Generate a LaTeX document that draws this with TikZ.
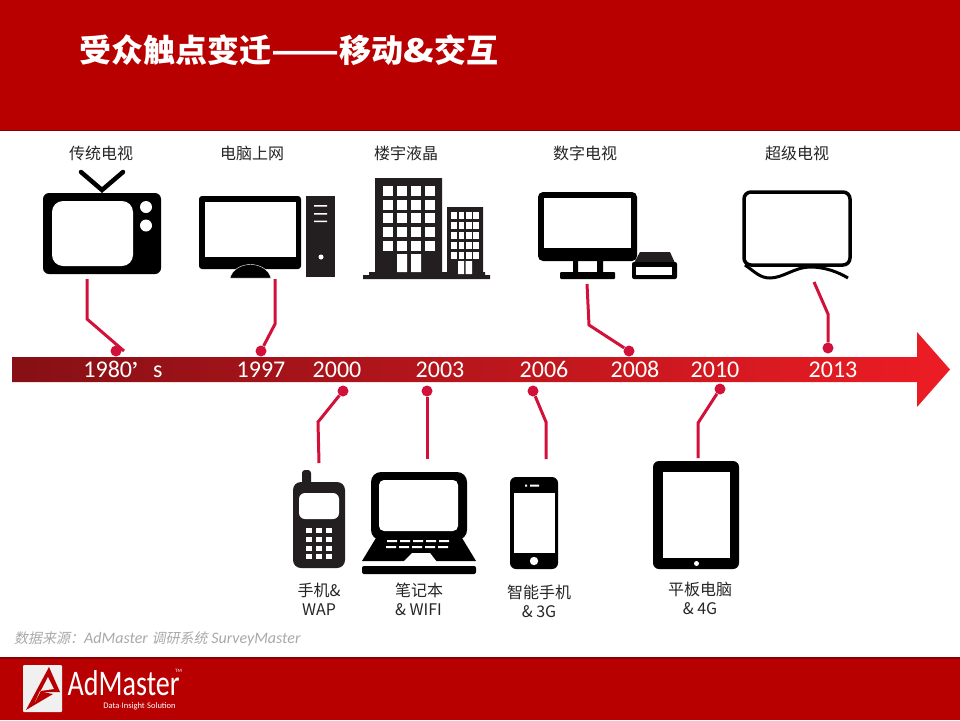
\documentclass[tikz,border=0pt]{standalone}
\usepackage{fontspec}
\setmainfont{Carlito}
\newfontfamily\cjk{Noto Sans CJK SC}
\newfontfamily\cjkslant[FakeSlant=0.2]{Noto Sans CJK SC}
\usetikzlibrary{positioning}
\definecolor{headred}{HTML}{B80000}
\definecolor{headdark}{HTML}{8A0000}
\definecolor{linered}{HTML}{D2113A}
\definecolor{iconblack}{HTML}{000000}
\definecolor{towerblack}{HTML}{231F20}
\definecolor{sourcegray}{HTML}{A9A9A9}
\definecolor{axisleft}{HTML}{861015}
\definecolor{axismid}{HTML}{B5141C}
\definecolor{axisright}{HTML}{ED1C24}
\tikzset{
	every node/.style = {
		inner sep=0pt,
		align=center
	},
	toplabel/.style = {font=\fontsize{16}{16}\selectfont\cjk, text=black!85},
	lowlabel/.style = {font=\fontsize{16}{19}\selectfont\cjk, text=black!85},
	yearlabel/.style = {font=\fontsize{24}{24}\selectfont, text=white, anchor=base},
	dotnode/.style = {circle, fill=linered, minimum size=11pt},
	link/.style = {draw=linered, line width=3pt},
	hole/.style = {fill=white}
}
\begin{document}
\begin{tikzpicture}[x=1pt,y=-1pt]
	\useasboundingbox (0,0) rectangle (960,720);
	\fill[white] (0,0) rectangle (960,720);
	% bands
	\fill[headred] (0,0) rectangle (960,130);
	\fill[headdark] (0,129.5) rectangle (960,131);
	\fill[headred] (0,657) rectangle (960,720);
	\fill[headdark] (0,656.5) rectangle (960,659);
	\node[font=\fontsize{32}{32}\selectfont\bfseries\cjk, text=white, anchor=west] (title) at (79,50) {受众触点变迁\scalebox{1.24}[1]{——}移动\scalebox{1.25}[1]{\&}交互};

	% time axis
	\shade[left color=axisleft, middle color=axismid, right color=axisright]
		(12,357) -- (917,357) -- (917,332) -- (950,369.5) -- (917,407) -- (917,382) -- (12,382) -- cycle;
	\node[yearlabel] (y1980) at (123,377) {1980\raisebox{-5pt}{\cjk ’}\hspace{-3pt}s};
	\node[yearlabel] (y1997) at (261,377) {1997};
	\node[yearlabel] (y2000) at (337,377) {2000};
	\node[yearlabel] (y2003) at (440,377) {2003};
	\node[yearlabel] (y2006) at (544,377) {2006};
	\node[yearlabel] (y2008) at (635,377) {2008};
	\node[yearlabel] (y2010) at (715,377) {2010};
	\node[yearlabel] (y2013) at (833,377) {2013};

	% upper labels
	\node[toplabel] (ltv) at (101,153) {传统电视};
	\node[toplabel] (lpc) at (252,153) {电脑上网};
	\node[toplabel] (lbuilding) at (406,153) {楼宇液晶};
	\node[toplabel] (ldigital) at (585,153) {数字电视};
	\node[toplabel] (lsuper) at (797,153) {超级电视};

	% old television
	\draw[iconblack, line width=4.5pt, line cap=round] (81,172) -- (102,190) -- (123,172);
	\fill[iconblack, rounded corners=6pt] (43,193) rectangle (161,274);
	\fill[hole, rounded corners=11pt] (52,201) rectangle (133,266);
	\fill[hole] (146,207) circle (6) (146,225.5) circle (6);

	% computer
	\fill[iconblack, rounded corners=3pt] (199,196) rectangle (301,269);
	\fill[hole] (205,202) rectangle (296,257);
	\fill[iconblack, draw=white] (230,278) .. controls (235,260) and (266,260) .. (271,278) -- cycle;
	\fill[towerblack] (306,196) rectangle (335,277);
	\fill[hole] (314,205) rectangle (327,206.5) (314,213) rectangle (327,214.5) (314,220.5) rectangle (327,222);
	\fill[hole] (321,257) circle (2.5);

	% buildings
	\fill[towerblack] (375,178) rectangle (442,276) (447,207) rectangle (483,276) (369,272) rectangle (485,279) (363,275) rectangle (490,279);
	\foreach \x in {383,397,411,425}
		\foreach \y in {186,199.5,213,227,240.5}
			\fill[hole] (\x,\y) rectangle ++(10,10);
	\fill[hole] (397,254) rectangle (407,272) (411,254) rectangle (421,272);
	\foreach \x in {451,458.5,466,473}
		\foreach \y in {212,222,232,242,252}
			\fill[hole] (\x,\y) rectangle ++(5.5,6.5);
	\fill[hole] (458,261) rectangle (464,274) (465.5,261) rectangle (472,274);

	% digital television
	\fill[iconblack, rounded corners=5pt] (538,192) rectangle (637,261);
	\fill[hole] (544,198) rectangle (631,248);
	\fill[iconblack] (573,259) rectangle (578,273) (597,259) rectangle (603,273);
	\fill[iconblack, rounded corners=1pt] (560,272) rectangle (615,279);
	\fill[towerblack] (640,252) -- (670,252) -- (675,263) -- (634,263) -- cycle;
	\fill[iconblack, rounded corners=2pt] (632,262) rectangle (677,279);
	\fill[hole] (636,267) rectangle (672,275);

	% super television
	\draw[iconblack, line width=3.5pt, rounded corners=7pt] (744,192) rectangle (850,265);
	\draw[iconblack, line width=3pt] (745,265) .. controls (755,272) and (760,278) .. (770,278) .. controls (783,278) and (795,267) .. (810,267) .. controls (825,267) and (838,272) .. (848,278);

	% lower icons
	% phone
	\fill[towerblack, rounded corners=3pt] (302,470) rectangle (311,490);
	\fill[towerblack, rounded corners=8pt] (293,482) rectangle (345,568);
	\fill[hole, rounded corners=6pt] (299,493) rectangle (339,519);
	\foreach \x in {306,315.5,326}
		\foreach \y in {528,537,546,554}
			\fill[hole] (\x,\y) rectangle ++(6,5);

	% notebook
	\fill[iconblack, rounded corners=10pt] (371,472) rectangle (467,540);
	\fill[hole, rounded corners=5pt] (379,480) rectangle (458,531);
	\fill[iconblack] (379,533) -- (459,533) -- (476,561) -- (362,561) -- cycle;
	\fill[iconblack, rounded corners=2pt] (362,566) rectangle (476,574);
	\fill[hole] (403,562) -- (412,553) -- (430,553) -- (437,562) -- cycle;
	\foreach \x in {387,400,413,426,439}
		\fill[hole] (\x,540) rectangle ++(10,2.2) (\x-1,546) rectangle ++(10,2.2);

	% smart phone
	\fill[iconblack, rounded corners=6pt] (510,477) rectangle (558,569);
	\fill[hole] (514,493) rectangle (555,553);
	\fill[hole] (534,561) circle (4.2);
	\fill[hole] (525,484.5) rectangle (527,486.5) (530,484.5) rectangle (539,486.5);

	% tablet
	\fill[iconblack, rounded corners=6pt] (653,461) rectangle (739,569);
	\fill[hole] (663,472) rectangle (730,558);
	\fill[hole] (696.5,563.5) circle (2.5);

	% lower labels
	\node[lowlabel] (lphone) at (319,599.5) {手机\&\\WAP};
	\node[lowlabel, align=left, anchor=west] (lnote) at (395,599.5) {笔记本\\\& WIFI};
	\node[lowlabel] (lsmart) at (539,601.5) {智能手机\\\& 3G};
	\node[lowlabel] (ltablet) at (700,598.5) {平板电脑\\\& 4G};

	% connectors
	\node[dotnode] (d1980) at (116,351) {};
	\node[dotnode] (d1997) at (261,351) {};
	\node[dotnode] (d2008) at (629,351) {};
	\node[dotnode] (d2013) at (828,348) {};
	\node[dotnode] (d2000) at (343,391) {};
	\node[dotnode] (d2003) at (427,391) {};
	\node[dotnode] (d2006) at (533,391) {};
	\node[dotnode] (d2010) at (720,389) {};
	\coordinate (c1980a) at (87,279);
	\coordinate (c1980b) at (87,319);
	\coordinate (c1980c) at (124,351);
	\coordinate (c1997a) at (275,279);
	\coordinate (c1997b) at (275,324);
	\coordinate (c2008a) at (587,284);
	\coordinate (c2008b) at (589,325);
	\coordinate (c2013a) at (814,282);
	\coordinate (c2013b) at (828,314);
	\coordinate (c2000a) at (319,463);
	\coordinate (c2000b) at (318,422);
	\coordinate (c2003a) at (427,459);
	\coordinate (c2006a) at (546,459);
	\coordinate (c2006b) at (546,422);
	\coordinate (c2010a) at (698,458);
	\coordinate (c2010b) at (698,423);
	\draw[link] (c1980a) -- (c1980b) -- (c1980c);
	\draw[link] (c1997a) -- (c1997b) -- (d1997);
	\draw[link] (c2008a) -- (c2008b) -- (d2008);
	\draw[link] (c2013a) -- (c2013b) -- (d2013);
	\draw[link] (c2000a) -- (c2000b) -- (d2000);
	\draw[link] (c2003a) -- (d2003);
	\draw[link] (c2006a) -- (c2006b) -- (d2006);
	\draw[link] (c2010a) -- (c2010b) -- (d2010);

	% source line
	\node[anchor=west, text=sourcegray, font=\fontsize{16}{16}\selectfont] (source) at (14,639) {{\fontsize{14}{14}\selectfont\cjkslant 数据来源：}\textit{AdMaster} {\fontsize{14}{14}\selectfont\cjkslant 调研系统} \textit{SurveyMaster}};

	% logo
	\fill[white!88!gray, rounded corners=1pt] (23,665) rectangle (62,712);
	\fill[headred] (49,667) -- (26,710) -- (53,694) -- (42,692) -- (60,692) -- cycle;
	\fill[white!88!gray] (48,677) -- (35,702) -- (40,691) -- (54,689) -- cycle;
	\node[text=white, font=\fontsize{36}{36}\selectfont, anchor=west] (brand) at (67.5,683) {\scalebox{0.78}[1]{AdMaster}};
	\node[text=white, font=\fontsize{5}{5}\selectfont, anchor=west] (tm) at (175,671) {TM};
	\node[text=white, font=\fontsize{8.5}{8.5}\selectfont] (slogan) at (139.5,706) {Data$\cdot$Insight$\cdot$Solution};
\end{tikzpicture}
\end{document}
